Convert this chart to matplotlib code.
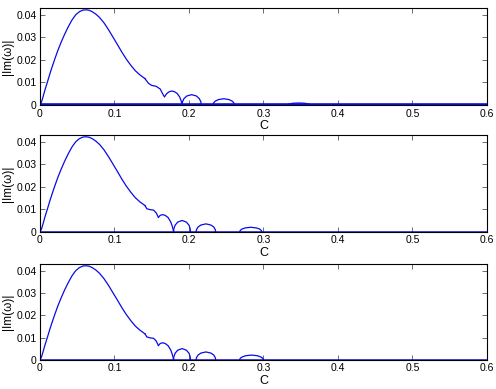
import matplotlib
matplotlib.use("Agg")
import matplotlib.pyplot as plt

plt.rcParams['font.family'] = ['Liberation Sans', 'DejaVu Sans']

# main branch, shared up to c = 0.141
main_x = [0, 0.002, 0.004, 0.006, 0.008, 0.010, 0.013, 0.016, 0.020, 0.024, 0.028, 0.033,
          0.038, 0.043, 0.048, 0.053, 0.058, 0.062, 0.066, 0.070, 0.075, 0.080, 0.086,
          0.092, 0.098, 0.104, 0.110, 0.116, 0.122, 0.128, 0.134, 0.141]
main_y = [0, 0.0013, 0.0035, 0.0059, 0.0081, 0.0102, 0.0135, 0.0166, 0.0205, 0.0242, 0.0275, 0.0313,
          0.0347, 0.0377, 0.0400, 0.0414, 0.0421, 0.0422, 0.0420, 0.0414, 0.0403, 0.0388, 0.0364,
          0.0334, 0.0301, 0.0268, 0.0234, 0.0203, 0.0176, 0.0152, 0.0134, 0.0117]

# tail of main branch
tail1_x = [0.141, 0.1457, 0.150, 0.156, 0.1614, 0.1658, 0.1672]
tail1_y = [0.0117, 0.0096, 0.0087, 0.0083, 0.0071, 0.0043, 0.0037]
tail2_x = [0.141, 0.1435, 0.148, 0.1525, 0.156, 0.159]
tail2_y = [0.0117, 0.0103, 0.0099, 0.0097, 0.0085, 0.0065]

# small arcs, panel 1
arcs1 = [
    ([0.1672, 0.1700, 0.1730, 0.1765, 0.1800, 0.1840, 0.1875, 0.1895, 0.1903, 0.1906],
     [0.0037, 0.0050, 0.0058, 0.0062, 0.0060, 0.0052, 0.0036, 0.0019, 0.0008, 0]),
    ([0.1906, 0.1913, 0.1932, 0.1971, 0.2036, 0.2101, 0.2140, 0.2160, 0.2166],
     [0, 0.0014, 0.0028, 0.0040, 0.0046, 0.0040, 0.0028, 0.0014, 0]),
    ([0.2323, 0.2330, 0.2352, 0.2395, 0.2467, 0.2539, 0.2582, 0.2604, 0.2610],
     [0, 0.0009, 0.0017, 0.0024, 0.0028, 0.0024, 0.0017, 0.0009, 0]),
    ([0.3320, 0.3328, 0.3351, 0.3398, 0.3475, 0.3553, 0.3599, 0.3622, 0.3630],
     [0, 0.0003, 0.0005, 0.0008, 0.0009, 0.0008, 0.0005, 0.0003, 0]),
]

# small arcs, panel 2
arcs2 = [
    ([0.159, 0.1615, 0.1645, 0.168, 0.172, 0.1755, 0.1775, 0.1787, 0.1793],
     [0.0065, 0.0074, 0.0077, 0.0074, 0.0064, 0.0045, 0.0027, 0.0012, 0]),
    ([0.1793, 0.1799, 0.1816, 0.1850, 0.1908, 0.1965, 0.1999, 0.2016, 0.2022],
     [0, 0.0016, 0.0031, 0.0044, 0.0051, 0.0044, 0.0031, 0.0016, 0]),
    ([0.2095, 0.2102, 0.2122, 0.2161, 0.2228, 0.2294, 0.2334, 0.2353, 0.2360],
     [0, 0.0011, 0.0022, 0.0031, 0.0036, 0.0031, 0.0022, 0.0011, 0]),
    ([0.2680, 0.2688, 0.2710, 0.2755, 0.2830, 0.2905, 0.2950, 0.2972, 0.2980],
     [0, 0.00065, 0.0013, 0.0018, 0.0021, 0.0018, 0.0013, 0.00065, 0]),
]

# panel 3 is almost the same as panel 2, last arc a bit wider
arcs3 = arcs2[:3] + [
    ([0.2680, 0.2688, 0.2712, 0.2760, 0.2840, 0.2920, 0.2968, 0.2992, 0.3000],
     [0, 0.0007, 0.0013, 0.0019, 0.0022, 0.0019, 0.0013, 0.0007, 0]),
]

zero_x = [0, 0.6]
zero_y = [0, 0]

xticks = [0, 0.1, 0.2, 0.3, 0.4, 0.5, 0.6]
xticklabels = ['0', '0.1', '0.2', '0.3', '0.4', '0.5', '0.6']
yticks = [0, 0.01, 0.02, 0.03, 0.04]
yticklabels = ['0', '0.01', '0.02', '0.03', '0.04']

panels = [
    (tail1_x, tail1_y, arcs1, 2.6),
    (tail2_x, tail2_y, arcs2, 1.1),
    (tail2_x, tail2_y, arcs3, 1.1),
]

# axes rectangles in figure fraction (left, bottom, width, height)
rects = [
    (0.0806, 0.730, 0.901, 0.2494),
    (0.0806, 0.4036, 0.901, 0.2494),
    (0.0806, 0.0746, 0.901, 0.2468),
]

fig = plt.figure(figsize=(4.96, 3.89), dpi=100)
blue = '#0a0ae6'

for (tx, ty, arcs, zlw), rect in zip(panels, rects):
    ax = fig.add_axes(rect)
    ax.plot(zero_x, zero_y, color=blue, lw=zlw, solid_capstyle='butt')
    ax.plot(main_x, main_y, color=blue, lw=0.9)
    ax.plot(tx, ty, color=blue, lw=0.9)
    for ax_x, ax_y in arcs:
        ax.plot(ax_x, ax_y, color=blue, lw=0.9)
    ax.set_xlim(0, 0.6)
    ax.set_ylim(0, 0.043)
    ax.set_xticks(xticks)
    ax.set_xticklabels(xticklabels)
    ax.set_yticks(yticks)
    ax.set_yticklabels(yticklabels)
    ax.tick_params(direction='in', top=True, right=True, length=3.5, width=0.6,
                   labelsize=7.5, pad=2.5, color='#555555')
    for s in ax.spines.values():
        s.set_linewidth(0.8)
    ax.set_xlabel('C', fontsize=9, labelpad=1)
    ax.set_ylabel('|Im(ω)|', fontsize=8.5, labelpad=1.5)

fig.savefig('out.png', dpi=100)
